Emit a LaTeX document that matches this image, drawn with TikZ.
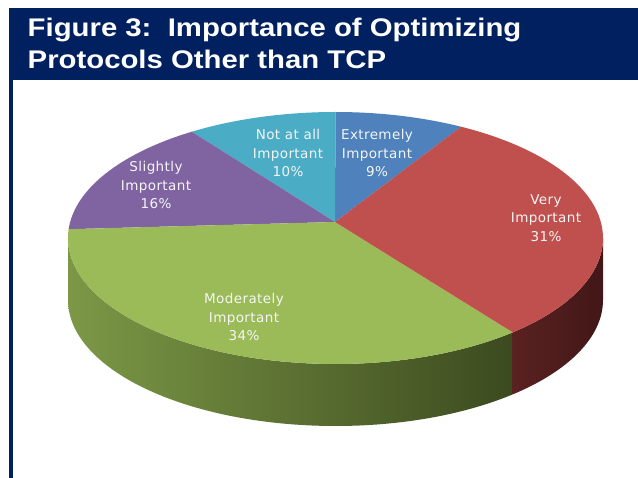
\documentclass[tikz,border=0pt]{standalone}
\usepackage{fontspec}
\usepackage{xcolor,tikz}
\usetikzlibrary{calc,positioning}
\newfontfamily\titlefont{Liberation Sans}[FakeStretch=1.15]
\newfontfamily\labelfont{DejaVu Sans}[LetterSpace=3]
\definecolor{navy}{RGB}{0,32,96}
\definecolor{extblue}{RGB}{79,129,189}
\definecolor{veryred}{RGB}{192,80,77}
\definecolor{modgreen}{RGB}{155,187,89}
\definecolor{slightpurple}{RGB}{128,100,162}
\definecolor{notaqua}{RGB}{75,172,198}
\definecolor{greenside}{RGB}{124,152,70}
\definecolor{greensidedark}{RGB}{60,74,31}
\definecolor{redside}{RGB}{90,33,33}
\definecolor{redsidedark}{RGB}{66,23,23}
\tikzset{
  titletext/.style={anchor=base west, inner sep=0pt, text=white, font=\titlefont\bfseries\fontsize{25.5}{30}\selectfont},
  slicelabel/.style={align=center, text=white!96!black, inner sep=0pt, font=\labelfont\fontsize{13.5}{18.3}\selectfont}
}

\begin{document}
\begin{tikzpicture}[x=1pt,y=1pt]
\fill[white] (0,0) rectangle (638,-478);
\useasboundingbox (0,0) rectangle (638,-478);
% header bar and left rule
\fill[navy] (9,-8) rectangle (638,-80);
\fill[navy] (9,-80) rectangle (13,-478);
\node[titletext] (title1) at (27.5,-37) {Figure 3:\ \ Importance of Optimizing};
\node[titletext] (title2) at (27.5,-68.5) {Protocols Other than TCP};
% pie: ellipse centre O, apex P
\coordinate (O) at (335.5,-238);
\coordinate (P) at (335,-222);
% side
\shade[left color=greenside, right color=greensidedark] ($(O)+(180:267.5 and 126)$) arc[start angle=180, end angle=311.5, x radius=267.5, y radius=126] -- ++(0,-62) arc[start angle=311.5, end angle=180, x radius=267.5, y radius=126] -- cycle;
\shade[left color=redside, right color=redsidedark] ($(O)+(311.5:267.5 and 126)$) arc[start angle=311.5, end angle=360, x radius=267.5, y radius=126] -- ++(0,-62) arc[start angle=360, end angle=311.5, x radius=267.5, y radius=126] -- cycle;
% top
\fill[extblue] (P) -- ($(O)+(62:267.5 and 126)$) arc[start angle=62, end angle=90, x radius=267.5, y radius=126] -- cycle;
\fill[notaqua] (P) -- ($(O)+(90:267.5 and 126)$) arc[start angle=90, end angle=122.5, x radius=267.5, y radius=126] -- cycle;
\fill[slightpurple] (P) -- ($(O)+(122.5:267.5 and 126)$) arc[start angle=122.5, end angle=176, x radius=267.5, y radius=126] -- cycle;
\fill[modgreen] (P) -- ($(O)+(176:267.5 and 126)$) arc[start angle=176, end angle=311.5, x radius=267.5, y radius=126] -- cycle;
\fill[veryred] (P) -- ($(O)+(311.5:267.5 and 126)$) arc[start angle=311.5, end angle=422, x radius=267.5, y radius=126] -- cycle;
% labels
\node[slicelabel] (extremely) at (377,-153) {Extremely\\Important\\9\%};
\node[slicelabel] (notatall) at (288,-153) {Not at all\\Important\\10\%};
\node[slicelabel] (slightly) at (156,-185) {Slightly\\Important\\16\%};
\node[slicelabel] (very) at (546,-218) {Very\\Important\\31\%};
\node[slicelabel] (moderately) at (244,-317) {Moderately\\Important\\34\%};
\end{tikzpicture}
\end{document}
